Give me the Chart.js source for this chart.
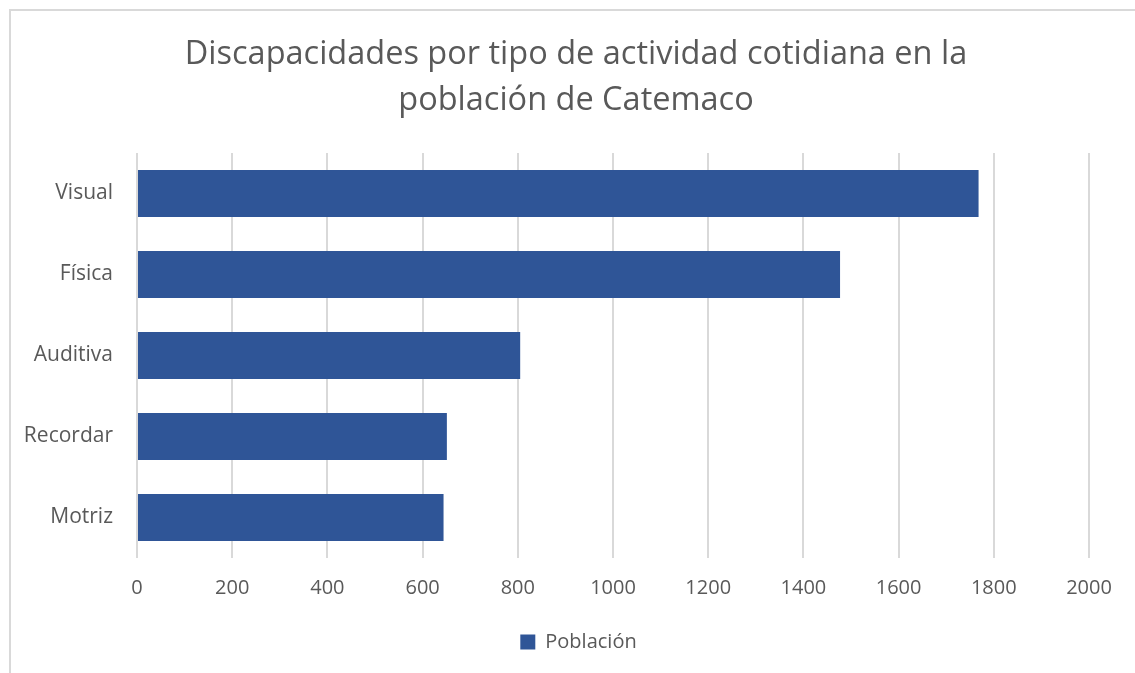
<!DOCTYPE html>
<html>
<head>
<meta charset="utf-8">
<script src="https://cdn.jsdelivr.net/npm/chart.js@4/dist/chart.umd.min.js"></script>
<style>
body { margin:0; background:#fff; }
#wrap { position:absolute; left:0; top:0; width:1135px; height:673px; overflow:hidden; }
#frame { position:absolute; left:9px; top:9px; width:1200px; height:700px; border:2px solid #d9d9d9; box-sizing:border-box; }
canvas { position:absolute; left:0; top:0; }
</style>
</head>
<body>
<div id="wrap">
<div id="frame"></div>
<canvas id="chart" width="1135" height="673"></canvas>
</div>
<script>
// categories and values
var categorias = ["Visual", "Física", "Auditiva", "Recordar", "Motriz"];
var poblacion = [1768, 1477, 805, 651, 644];
var titulo = ["Discapacidades por tipo de actividad cotidiana en la", "población de Catemaco"];

var fuente = "'Open Sans', sans-serif";

// title and legend are centred a bit to the right of the canvas middle
var centrar = {
  id: 'centrar',
  afterLayout: function (chart) {
    chart.titleBlock.left += 53;
    chart.legend.left += 58;
  }
};

new Chart(document.getElementById("chart"), {
  type: 'bar',
  data: {
    labels: categorias,
    datasets: [{
      label: "Población",
      data: poblacion,
      backgroundColor: "#2f5597",
      borderWidth: 0,
      categoryPercentage: 1,
      barPercentage: 0.58
    }]
  },
  options: {
    indexAxis: 'y',
    responsive: false,
    animation: false,
    layout: { padding: { left: 10, right: 46, top: 22, bottom: 11 } },
    plugins: {
      title: {
        display: true,
        text: titulo,
        color: "#595959",
        font: { family: fuente, size: 32.5, weight: 'normal', lineHeight: 1.4 },
        padding: { top: 10, bottom: 30 }
      },
      legend: {
        position: 'bottom',
        labels: {
          color: "#595959",
          font: { family: fuente, size: 20 },
          boxWidth: 15, boxHeight: 15, padding: 10
        }
      },
      tooltip: { enabled: false }
    },
    scales: {
      x: {
        min: 0, max: 2000,
        afterFit: function (s) { s.height = 64; },
        ticks: {
          stepSize: 200, color: "#595959", font: { family: fuente, size: 20 }, padding: 18,
          callback: function (v) { return String(v); }
        },
        grid: { color: "#d9d9d9", lineWidth: 2, drawTicks: false },
        border: { display: false }
      },
      y: {
        afterFit: function (s) { s.width = 127; },
        ticks: { color: "#595959", font: { family: fuente, size: 21 }, padding: 16 },
        grid: { display: false },
        border: { display: false }
      }
    }
  },
  plugins: [centrar]
});
</script>
</body>
</html>
